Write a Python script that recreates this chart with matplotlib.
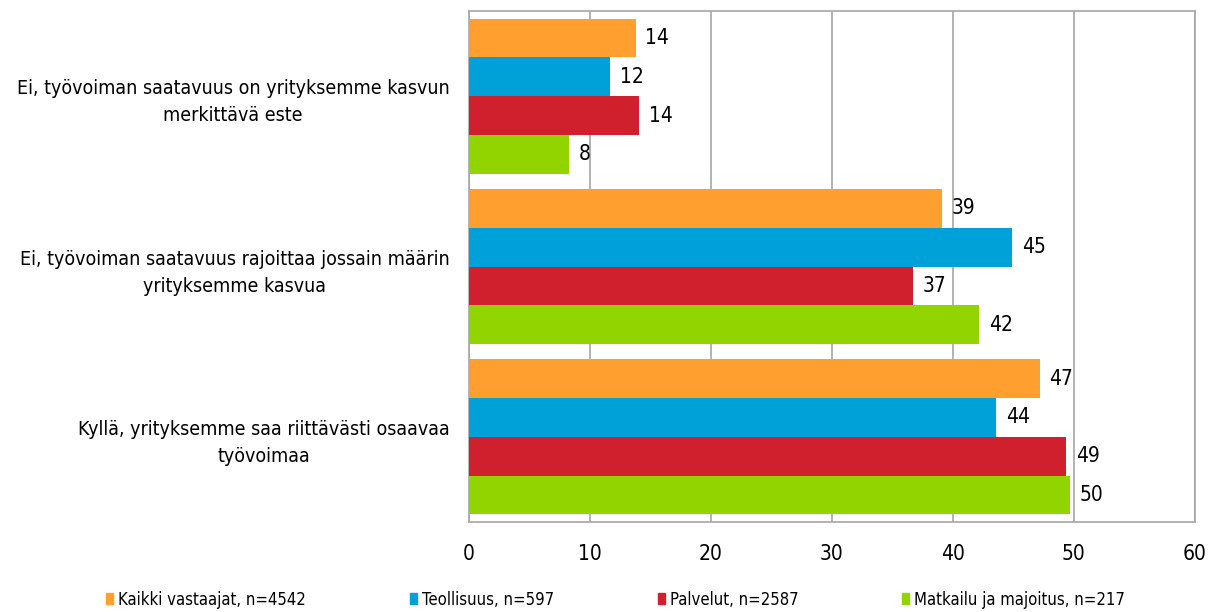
import numpy as np
import matplotlib
matplotlib.use('Agg')
import matplotlib.pyplot as plt
from matplotlib.patches import Patch

plt.rcParams['font.family'] = ['DejaVu Sans']
plt.rcParams['font.stretch'] = 'condensed'

categories = ['Ei, työvoiman saatavuus on yrityksemme kasvun\nmerkittävä este',
              'Ei, työvoiman saatavuus rajoittaa jossain määrin\nyrityksemme kasvua',
              'Kyllä, yrityksemme saa riittävästi osaavaa\ntyövoimaa']
series_names = ['Kaikki vastaajat, n=4542', 'Teollisuus, n=597',
                'Palvelut, n=2587', 'Matkailu ja majoitus, n=217']
kaikki = [13.8, 39.1, 47.2]
teollisuus = [11.7, 44.9, 43.6]
palvelut = [14.1, 36.7, 49.4]
matkailu = [8.3, 42.2, 49.7]
colors = ['#ff9f30', '#00a0d8', '#d0202e', '#92d400']

values = [kaikki, teollisuus, palvelut, matkailu]

fig = plt.figure(figsize=(12.24, 6.12), dpi=100)
ax = fig.add_axes([0.383, 0.147, 0.593, 0.835])

y = np.arange(len(categories))
h = 0.2275
for i, (vals, c) in enumerate(zip(values, colors)):
    pos = y + (i - 1.5) * h
    bars = ax.barh(pos, vals, height=h, color=c, zorder=3)
    for b, v in zip(bars, vals):
        ax.annotate(f'{v:.0f}', (b.get_width(), b.get_y() + b.get_height() / 2),
                    xytext=(7, 0), textcoords='offset points',
                    va='center', ha='left', fontsize=15, zorder=4)

ax.set_xlim(0, 60)
ax.set_ylim(2.5, -0.5)
ax.set_xticks(range(0, 61, 10))
ax.set_yticks(y)
ax.set_yticklabels(categories, fontsize=14, multialignment='center', linespacing=1.55)
ax.tick_params(axis='both', length=0, labelsize=15)
ax.tick_params(axis='y', labelsize=14, pad=14)
ax.tick_params(axis='x', pad=16)
ax.xaxis.grid(True, color='#a6a6a6', linewidth=1.2, zorder=0)
for s in ax.spines.values():
    s.set_color('#a6a6a6')
    s.set_linewidth(1.2)

handles = [Patch(color=c) for c in colors]
fig.legend(handles, series_names, loc='center', ncol=4, frameon=False,
           bbox_to_anchor=(0.503, 0.02), fontsize=12, handlelength=0.45,
           handleheight=0.65, handletextpad=0.3, columnspacing=6.2)

fig.savefig('out.png', dpi=100)
